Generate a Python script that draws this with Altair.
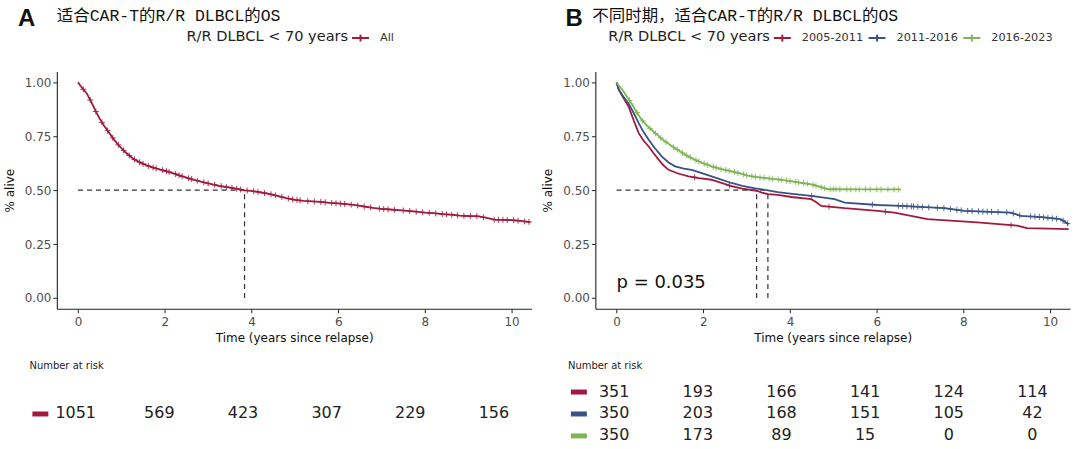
import altair as alt
import numpy as np
import pandas as pd

FONT = "DejaVu Sans"
TITLE_FONT = "Liberation Mono, Noto Sans CJK SC"
RED, BLUE, GREEN = "#A11A3E", "#3A5285", "#7DB552"

# ---------------- Panel A data ----------------
a_groups = ["All"]
a_t = [0, 0.05, 0.1, 0.2, 0.3, 0.4, 0.5, 0.6, 0.7, 0.8, 0.9, 1.0, 1.1, 1.2, 1.3, 1.45, 1.6, 1.75,
       1.9, 2.05, 2.2, 2.35, 2.5, 2.65, 2.8, 2.95, 3.1, 3.25, 3.4, 3.55, 3.7, 3.84, 4.0, 4.2, 4.4,
       4.6, 4.8, 5.0, 5.2, 5.4, 5.6, 5.8, 6.0, 6.2, 6.4, 6.6, 6.8, 7.0, 7.2, 7.4, 7.6, 7.8, 8.0,
       8.2, 8.4, 8.6, 8.8, 9.0, 9.2, 9.4, 9.6, 9.8, 10.0, 10.2, 10.43]
a_s = [1.0, 0.985, 0.972, 0.948, 0.91, 0.868, 0.83, 0.798, 0.77, 0.742, 0.716, 0.694, 0.674,
       0.657, 0.642, 0.626, 0.613, 0.603, 0.595, 0.587, 0.578, 0.567, 0.558, 0.549, 0.541, 0.533,
       0.527, 0.520, 0.515, 0.510, 0.505, 0.499, 0.496, 0.490, 0.483, 0.473, 0.463, 0.455, 0.450,
       0.448, 0.445, 0.441, 0.438, 0.435, 0.430, 0.424, 0.418, 0.413, 0.410, 0.407, 0.404, 0.400,
       0.396, 0.393, 0.389, 0.386, 0.382, 0.380, 0.379, 0.372, 0.363, 0.362, 0.361, 0.357, 0.352]
a_censor = [0.12, 0.28, 0.41, 0.55, 0.68, 0.8, 0.93, 1.05, 1.18, 1.3, 1.42, 1.5, 1.62, 1.73, 1.8,
            1.95, 2.04, 2.1, 2.25, 2.33, 2.4, 2.55, 2.62, 2.75, 2.9, 3.0, 3.15, 3.3, 3.42, 3.55,
            3.66, 3.75, 3.9, 4.05, 4.15, 4.3, 4.45, 4.55, 4.7, 4.85, 4.95, 5.05, 5.12, 5.3, 5.45,
            5.6, 5.7, 5.85, 5.95, 6.05, 6.15, 6.3, 6.45, 6.6, 6.75, 6.95, 7.05, 7.15, 7.3, 7.5,
            7.65, 7.8, 7.95, 8.1, 8.25, 8.4, 8.5, 8.62, 8.75, 8.9, 9.05, 9.2, 9.35, 9.6, 9.7, 9.8,
            9.9, 10.05, 10.15, 10.3, 10.4]
a_medians = [3.84]
a_risk = [1051, 569, 423, 307, 229, 156]

# ---------------- Panel B data ----------------
b_groups = ["2005-2011", "2011-2016", "2016-2023"]
r_t = [0, 0.05, 0.15, 0.28, 0.4, 0.51, 0.62, 0.74, 0.85, 0.97, 1.08, 1.2, 1.4, 1.66, 1.9, 2.19,
       2.4, 2.65, 2.9, 3.23, 3.35, 3.49, 3.72, 4.03, 4.49, 4.6, 4.72, 5.26, 6.02, 6.41, 6.79,
       7.17, 8.32, 9.24, 9.47, 10.43]
r_s = [1.0, 0.965, 0.93, 0.886, 0.82, 0.764, 0.73, 0.702, 0.672, 0.641, 0.615, 0.594, 0.578,
       0.564, 0.556, 0.548, 0.535, 0.518, 0.507, 0.497, 0.488, 0.481, 0.478, 0.468, 0.458, 0.445,
       0.427, 0.416, 0.404, 0.396, 0.381, 0.365, 0.350, 0.335, 0.324, 0.319]
bl_t = [0, 0.05, 0.15, 0.28, 0.4, 0.51, 0.62, 0.74, 0.88, 1.04, 1.2, 1.35, 1.55, 1.73, 1.95,
        2.19, 2.4, 2.65, 2.9, 3.2, 3.49, 3.72, 4.0, 4.49, 5.03, 5.26, 6.02, 6.56, 7.56, 8.02,
        9.09, 9.32, 9.8, 10.24, 10.43]
bl_s = [1.0, 0.965, 0.935, 0.90, 0.855, 0.81, 0.77, 0.733, 0.695, 0.656, 0.628, 0.61, 0.60,
        0.594, 0.58, 0.564, 0.55, 0.533, 0.52, 0.508, 0.499, 0.491, 0.484, 0.473, 0.458, 0.442,
        0.431, 0.427, 0.416, 0.404, 0.396, 0.381, 0.375, 0.365, 0.342]
g_t = [0, 0.05, 0.15, 0.25, 0.35, 0.46, 0.58, 0.72, 0.89, 1.1, 1.35, 1.55, 1.73, 1.95, 2.19,
       2.4, 2.65, 2.85, 3.03, 3.2, 3.42, 3.6, 3.72, 4.0, 4.18, 4.49, 4.7, 4.87, 5.5, 6.0, 6.56]
g_s = [1.0, 0.985, 0.96, 0.93, 0.90, 0.862, 0.825, 0.795, 0.764, 0.728, 0.694, 0.668, 0.648,
       0.628, 0.61, 0.598, 0.587, 0.577, 0.567, 0.561, 0.556, 0.552, 0.55, 0.542, 0.536, 0.527,
       0.515, 0.504, 0.503, 0.503, 0.503]
r_censor = [1.8, 2.6, 4.9, 6.2, 9.1]
bl_censor = [4.5, 5.9, 6.5, 6.6, 6.7, 6.8, 6.85, 6.95, 7.05, 7.2, 7.4, 7.55, 7.7, 7.85, 7.95, 8.1,
             8.2, 8.35, 8.45, 8.55, 8.65, 8.8, 9.0, 9.15, 9.3, 9.55, 9.65, 9.75, 9.85, 9.95,
             10.05, 10.15, 10.3, 10.4]
g_censor = [0.3, 0.47, 0.6, 0.77, 0.9, 1.02, 1.14, 1.31, 1.4, 1.52, 1.61, 1.7, 1.83, 1.9, 2.02,
            2.1, 2.23, 2.3, 2.41, 2.52, 2.6, 2.72, 2.8, 2.93, 3.0, 3.12, 3.2, 3.31, 3.4, 3.52,
            3.6, 3.73, 3.8, 3.92, 4.0, 4.13, 4.2, 4.31, 4.4, 4.53, 4.6, 4.72, 4.8, 4.93, 5.0,
            5.06, 5.15, 5.31, 5.4, 5.52, 5.6, 5.74, 5.85, 6.0, 6.1, 6.26, 6.4, 6.5]
b_medians = [3.23, 3.49]
b_risk = [[351, 193, 166, 141, 124, 114],
          [350, 203, 168, 151, 105, 42],
          [350, 173, 89, 15, 0, 0]]
risk_times = [0, 2, 4, 6, 8, 10]
p_label = "p = 0.035"

X_DOMAIN = [-0.49, 10.46]
Y_DOMAIN = [-0.05, 1.05]
W, H = 476, 238
CROSS = "M-1,0L1,0M0,-1L0,1"
LEG = "M-1,0L1,0M0,-0.4L0,0.4"


def curve_df(groups, ts, ss):
    rows = []
    for g, t, s in zip(groups, ts, ss):
        rows += [{"group": g, "t": a, "s": b, "o": i} for i, (a, b) in enumerate(zip(t, s))]
    return pd.DataFrame(rows)


def censor_df(groups, ts, ss, cs):
    rows = []
    for g, t, s, c in zip(groups, ts, ss, cs):
        tt = np.array(t, dtype=float)
        sv = np.array(s, dtype=float)
        vals = np.interp(np.array(c, dtype=float), tt, sv)
        rows += [{"group": g, "t": cc, "s": float(v)} for cc, v in zip(c, vals)]
    return pd.DataFrame(rows)


def km_panel(groups, colors, ts, ss, cs, medians, letter, title, letter_x, title_x, legend_x, ptext=None):
    cdf = curve_df(groups, ts, ss)
    kdf = censor_df(groups, ts, ss, cs)
    xs = alt.Scale(domain=X_DOMAIN, nice=False, zero=False)
    ys = alt.Scale(domain=Y_DOMAIN, nice=False, zero=False)
    xenc = alt.X("t:Q", scale=xs, axis=alt.Axis(values=[0, 2, 4, 6, 8, 10], format="d",
                                                  title="Time (years since relapse)", titlePadding=5,
                                                  labelPadding=4))
    yenc = alt.Y("s:Q", scale=ys, axis=alt.Axis(values=[0, 0.25, 0.5, 0.75, 1.0], format=".2f",
                                                  title="% alive", titlePadding=8))
    col = alt.Color("group:N", scale=alt.Scale(domain=groups, range=colors),
                    legend=alt.Legend(title="R/R DLBCL < 70 years", orient="none", legendX=legend_x,
                                      legendY=-43, direction="horizontal", titleOrient="left",
                                      titleFontSize=14.6, titleFont=FONT, titleFontWeight="normal",
                                      titleColor="#222", titlePadding=2, labelFontSize=11.3,
                                      labelFont=FONT, labelColor="#333", symbolType=LEG,
                                      symbolSize=289, symbolStrokeWidth=2, columnPadding=1,
                                      labelOffset=10))
    line = alt.Chart(cdf).mark_line(strokeWidth=1.8).encode(
        x=xenc, y=yenc, color=col, order="o:Q")
    cens = alt.Chart(kdf).mark_point(shape=CROSS, size=36, filled=False, strokeWidth=1,
                                     opacity=0.85).encode(
        x="t:Q", y="s:Q", color=alt.Color("group:N", legend=None))
    mdf = pd.DataFrame([{"x": 0, "x2": max(medians), "y": 0.5, "y2": 0.5}] +
                       [{"x": m, "x2": m, "y": 0, "y2": 0.5} for m in medians])
    med = alt.Chart(mdf).mark_rule(color="#333", strokeDash=[5, 4], strokeWidth=1.2).encode(
        x="x:Q", x2="x2:Q", y="y:Q", y2="y2:Q")
    lt = alt.Chart(pd.DataFrame({"v": [letter]})).mark_text(
        font="Liberation Sans", fontWeight="bold", fontSize=24, align="left", baseline="middle",
        color="#111").encode(text="v:N", x=alt.value(letter_x), y=alt.value(-53))
    tt = alt.Chart(pd.DataFrame({"v": [title]})).mark_text(
        font=TITLE_FONT, fontSize=16.5, align="left", baseline="middle", color="#111").encode(
        text="v:N", x=alt.value(title_x), y=alt.value(-56))
    layers = [med, line, cens, lt, tt]
    if ptext is not None:
        pt = alt.Chart(pd.DataFrame({"v": [ptext], "t": [0], "s": [0.07]})).mark_text(
            font=FONT, fontSize=18, align="left", baseline="middle", color="#111").encode(
            text="v:N", x="t:Q", y="s:Q")
        layers.append(pt)
    return alt.layer(*layers).properties(width=W, height=H)


def risk_panel(groups, colors, counts):
    rows = []
    for g, cnt in zip(groups, counts):
        rows += [{"group": g, "t": t, "n": n} for t, n in zip(risk_times, cnt)]
    df = pd.DataFrame(rows)
    cond = {"condition": [{"test": f"datum.value === '{g}'", "value": c}
                          for g, c in zip(groups[:-1], colors[:-1])],
            "value": colors[-1]}
    return alt.Chart(df).mark_text(font=FONT, fontSize=16, color="#222").encode(
        x=alt.X("t:Q", scale=alt.Scale(domain=[-0.45, 10.9], nice=False, zero=False), axis=None),
        y=alt.Y("group:N", scale=alt.Scale(domain=groups),
                axis=alt.Axis(title=None, labels=False, domain=False, ticks=True, tickSize=16,
                              tickWidth=5, offset=9, tickColor=cond)),
        text="n:Q",
    ).properties(width=W, height=66,
                 title=alt.TitleParams("Number at risk", anchor="start", fontSize=10,
                                       fontWeight="normal", offset=10, font=FONT, color="#222"))


kmA = km_panel(a_groups, [RED], [a_t], [a_s], [a_censor], a_medians, "A",
               "适合CAR-T的R/R DLBCL的OS", -39, 0, 130)
kmB = km_panel(b_groups, [RED, BLUE, GREEN], [r_t, bl_t, g_t], [r_s, bl_s, g_s],
               [r_censor, bl_censor, g_censor], b_medians, "B",
               "不同时期，适合CAR-T的R/R DLBCL的OS", -30, -3, 13, ptext=p_label)
riskA = risk_panel(a_groups, [RED], [a_risk])
riskB = risk_panel(b_groups, [RED, BLUE, GREEN], b_risk)

chart = alt.concat(kmA, kmB, riskA, riskB, columns=2, spacing={"row": 72, "column": 64},
                   bounds="flush").resolve_scale(
    x="independent", y="independent", color="independent").resolve_legend(
    color="independent").configure(
    padding={"left": 3, "top": 6, "right": 7, "bottom": 3}, background="white"
).configure_view(stroke=None).configure_axis(
    grid=False, domainColor="#222", domainWidth=1.1, tickColor="#222", tickSize=4,
    labelColor="#4D4D4D", labelFontSize=12, labelFont=FONT, labelPadding=2,
    titleFont=FONT, titleFontSize=12, titleFontWeight="normal", titleColor="#111")

chart.save("out.html", embed_options={"renderer": "svg", "actions": False})
